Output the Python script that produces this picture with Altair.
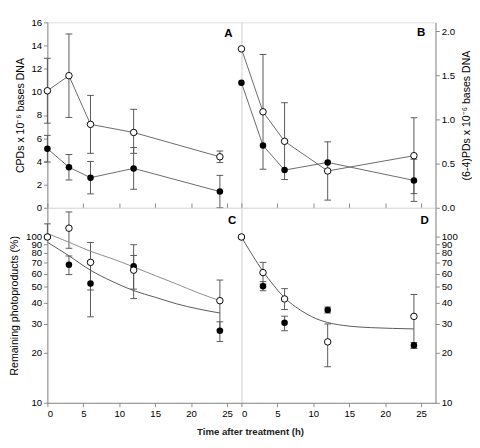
import altair as alt
import pandas as pd

FONT = "Liberation Sans"
FRAME = "#808080"
ERR = "#555555"
LINE = "#666666"

times = [0, 3, 6, 12, 24]

# Panel A: CPDs x 10^-6 bases DNA
a_open = [10.1, 11.4, 7.2, 6.5, 4.4]
a_open_lo = [7.3, 7.8, 4.7, 4.7, 3.9]
a_open_hi = [12.9, 15.0, 9.7, 8.5, 4.9]
a_fill = [5.1, 3.5, 2.6, 3.4, 1.4]
a_fill_lo = [3.95, 2.4, 1.2, 1.6, 0.0]
a_fill_hi = [6.25, 4.6, 4.0, 5.2, 2.8]

# Panel B: (6-4)PDs x 10^-6 bases DNA
b_open = [1.80, 1.087, 0.753, 0.417, 0.59]
b_open_lo = [None, 0.437, 0.32, 0.087, 0.16]
b_open_hi = [None, 1.736, 1.19, 0.747, 1.02]
b_fill = [1.417, 0.705, 0.427, 0.514, 0.31]
b_fill_lo = [None, None, None, None, 0.073]
b_fill_hi = [None, None, None, None, 0.55]

# Panel C: remaining CPDs (%)
c_open = [100, 113, 70.3, 63.1, 41.3]
c_open_lo = [100, 85.5, 47.9, 48.5, 27.6]
c_open_hi = [120, 141.6, 92.7, 77.4, 55.0]
c_fill = [100, 68, 52.4, 66.7, 27.2]
c_fill_lo = [None, 59.3, 33.0, 42.5, 23.4]
c_fill_hi = [None, 76.8, 71.8, 89.8, 30.8]
c_fit_open_t = [0, 3, 6, 9, 12, 15, 18, 21, 24]
c_fit_open_v = [105, 93, 82, 74, 66, 58.5, 52, 46, 41.3]
c_fit_fill_t = [0, 3, 6, 9, 12, 15, 18, 21, 24]
c_fit_fill_v = [93, 77, 63, 54, 47.5, 43.3, 39.5, 36.8, 34.8]

# Panel D: remaining (6-4)PDs (%)
d_open = [100, 61, 42.3, 23.3, 33.2]
d_open_lo = [None, 52, 36.5, 16.5, 21.4]
d_open_hi = [None, 70.3, 48.8, 29.9, 45.0]
d_fill = [100, 50.4, 30.4, 36.3, 22.2]
d_fill_lo = [None, 47.4, 27.2, 34.8, 21.3]
d_fill_hi = [None, 53.8, 33.3, 37.8, 23.1]
d_fit_t = [0, 1.5, 3, 4.5, 6, 7.5, 9, 10.5, 12, 15, 18, 21, 24]
d_fit_v = [100, 78, 62, 51, 43, 38, 34.5, 32, 30.5, 29, 28.4, 28.1, 27.9]

letters = ["A", "B", "C", "D"]
letter_t = [25.2, 25.0, 25.7, 25.5]
letter_v = [15.1, 1.99, 127, 127]

x_ticks = [0, 5, 10, 15, 20, 25]
log_ticks = [10, 20, 30, 40, 50, 60, 70, 80, 90, 100]

W = 202
H_TOP = 193
H_BOT = 203


def err_df(lo, hi):
    df = pd.DataFrame({"t": times, "lo": lo, "hi": hi})
    return df.dropna()


def panel(open_v, open_lo, open_hi, fill_v, fill_lo, fill_hi, fits, connect,
          xscale, yscale, xaxis, yaxis, letter_idx, height):
    X = alt.X("t:Q", scale=xscale, axis=xaxis)
    layers = []
    for lo, hi in [(fill_lo, fill_hi), (open_lo, open_hi)]:
        e = err_df(lo, hi)
        if len(e):
            layers.append(alt.Chart(e).mark_rule(color=ERR, strokeWidth=1).encode(
                x=X, y=alt.Y("lo:Q", scale=yscale, axis=yaxis), y2="hi:Q"))
            for col in ["lo", "hi"]:
                layers.append(alt.Chart(e).mark_tick(
                    orient="horizontal", size=7, thickness=1, color=ERR, opacity=1
                ).encode(x=X, y=alt.Y(col + ":Q", scale=yscale, axis=yaxis)))
    if connect:
        for vals in [fill_v, open_v]:
            df = pd.DataFrame({"t": times, "v": vals})
            layers.append(alt.Chart(df).mark_line(color=LINE, strokeWidth=1).encode(
                x=X, y=alt.Y("v:Q", scale=yscale, axis=yaxis)))
    for ft, fv, col in fits:
        df = pd.DataFrame({"t": ft, "v": fv})
        layers.append(alt.Chart(df).mark_line(color=col, strokeWidth=1, interpolate="monotone").encode(
            x=X, y=alt.Y("v:Q", scale=yscale, axis=yaxis)))
    dff = pd.DataFrame({"t": times, "v": fill_v})
    layers.append(alt.Chart(dff).mark_circle(size=46, color="black", opacity=1).encode(
        x=X, y=alt.Y("v:Q", scale=yscale, axis=yaxis)))
    dfo = pd.DataFrame({"t": times, "v": open_v})
    layers.append(alt.Chart(dfo).mark_circle(size=46, fill="white", stroke="black",
                                             strokeWidth=1, opacity=1).encode(
        x=X, y=alt.Y("v:Q", scale=yscale, axis=yaxis)))
    dl = pd.DataFrame({"t": [letter_t[letter_idx]], "v": [letter_v[letter_idx]],
                       "lab": [letters[letter_idx]]})
    layers.append(alt.Chart(dl).mark_text(font=FONT, fontSize=12, fontWeight="bold",
                                          color="black", align="center", baseline="middle").encode(
        x=X, y=alt.Y("v:Q", scale=yscale, axis=yaxis), text="lab:N"))
    return alt.layer(*layers).properties(width=W, height=height)


xscale = alt.Scale(domain=[0, 27], nice=False, zero=False)
inner_x = alt.Axis(orient="bottom", values=x_ticks, labels=False, domain=False,
                   ticks=True, tickSize=5, offset=-5, title=None, grid=False)
label_x_c = alt.Axis(orient="bottom", values=x_ticks, tickSize=4, labelPadding=2,
                     title="Time after treatment (h)", titleFontWeight="bold",
                     titleFontSize=10, titleColor="#222222", titleX=211, titlePadding=9,
                     grid=False)
label_x_d = alt.Axis(orient="bottom", values=x_ticks, tickSize=4, labelPadding=2,
                     title=None, grid=False)

A = panel(a_open, a_open_lo, a_open_hi, a_fill, a_fill_lo, a_fill_hi, [], True,
          xscale, alt.Scale(domain=[0, 16], nice=False, zero=True), inner_x,
          alt.Axis(orient="left", values=list(range(0, 17, 2)), tickSize=4, labelPadding=2,
                   title="CPDs x 10⁻⁶ bases DNA", titlePadding=6, titleFontWeight="normal",
                   grid=False),
          0, H_TOP)

B = panel(b_open, b_open_lo, b_open_hi, b_fill, b_fill_lo, b_fill_hi, [], True,
          xscale, alt.Scale(domain=[0, 2.1], nice=False, zero=True), inner_x,
          alt.Axis(orient="right", values=[0, 0.5, 1.0, 1.5, 2.0], format=".1f",
                   tickSize=4, labelPadding=2, title="(6-4)PDs x 10⁻⁶ bases DNA",
                   titleAngle=270, titleBaseline="top", titlePadding=6,
                   titleFontWeight="normal", grid=False),
          1, H_TOP)

logscale = alt.Scale(type="log", domain=[10, 150], nice=False)

C = panel(c_open, c_open_lo, c_open_hi, c_fill, c_fill_lo, c_fill_hi,
          [(c_fit_open_t, c_fit_open_v, "#8a8a8a"), (c_fit_fill_t, c_fit_fill_v, "#555555")],
          False, xscale, logscale, label_x_c,
          alt.Axis(orient="left", values=log_ticks, format="d", tickSize=4, labelPadding=2,
                   labelOverlap=False, title="Remaining photoproducts (%)",
                   titlePadding=6, titleFontWeight="normal", grid=False),
          2, H_BOT)

D = panel(d_open, d_open_lo, d_open_hi, d_fill, d_fill_lo, d_fill_hi,
          [(d_fit_t, d_fit_v, "#555555")],
          False, xscale, logscale, label_x_d,
          alt.Axis(orient="right", values=log_ticks, format="d", tickSize=4, labelPadding=2,
                   labelOverlap=False, title=None, grid=False),
          3, H_BOT)

chart = alt.concat(A, B, C, D, columns=2, spacing=0, bounds="flush").resolve_scale(
    x="independent", y="independent"
).resolve_axis(
    x="independent", y="independent"
).properties(
    padding=0
).configure_axis(
    labelFont=FONT, titleFont=FONT, labelFontSize=9, titleFontSize=11,
    titleFontWeight="normal", labelColor="#444444", titleColor="#222222",
    domainColor=FRAME, tickColor=FRAME, grid=False
).configure_view(
    stroke=FRAME, strokeWidth=1
).configure(background="white", padding=0)

chart.save("out.html", embed_options={"renderer": "svg", "actions": False})
